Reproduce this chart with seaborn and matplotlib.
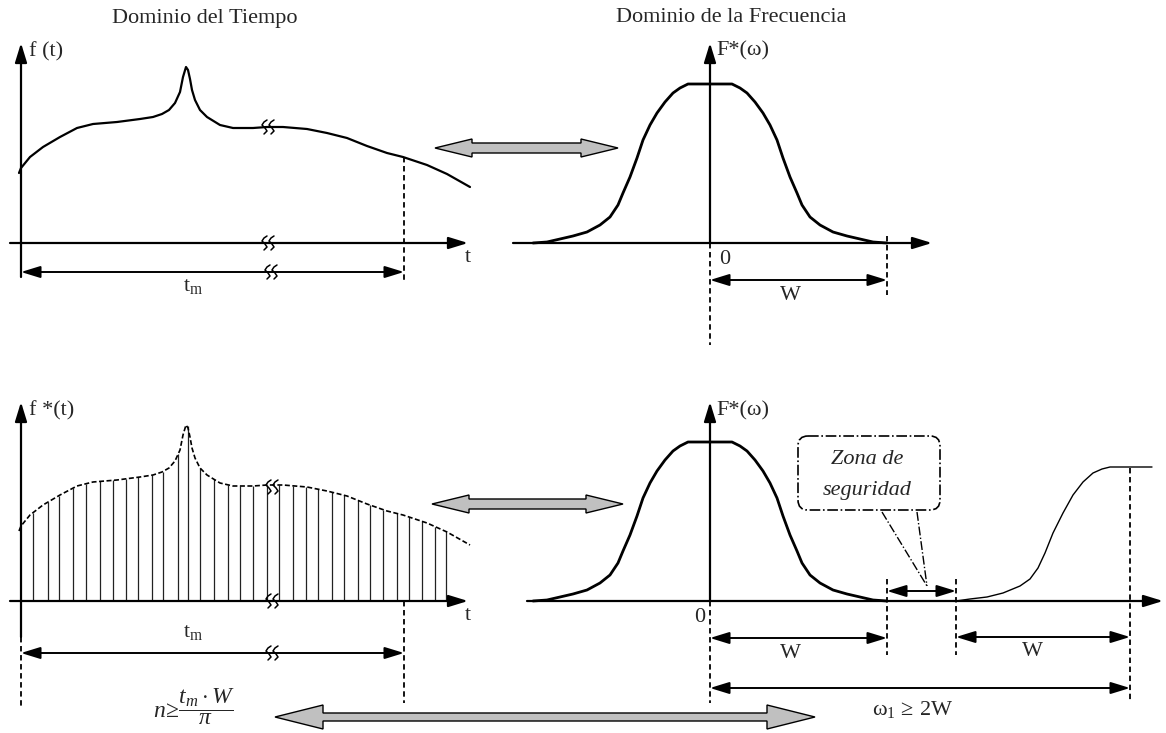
import matplotlib.pyplot as plt
import numpy as np
import pandas as pd
import seaborn as sns
from matplotlib.patches import Polygon, FancyBboxPatch

# f(t): posicion horizontal (px) y amplitud sobre el eje de tiempo
t_pos = [19, 21, 30, 43, 60, 77, 93, 117, 140, 153, 162, 169, 175, 180, 183, 186, 188, 190, 192,
         195, 200, 207, 220, 233, 253, 267, 283, 307, 327, 347, 367, 387, 403, 427, 447, 470]
f_amp = [70, 75, 86, 96, 106, 115, 119, 121, 124, 126, 129, 133, 140, 151, 166, 176, 173, 164, 153,
         143, 133, 126, 118, 115, 115, 116, 116, 114, 110, 105, 97, 90, 86, 78, 69, 56]

# f*(t): muestras
muestras_t = [33, 48, 59, 73, 86, 100, 113, 126, 138, 152, 163, 178, 188, 200, 214, 228, 240,
              253, 267, 279, 293, 306, 318, 332, 344, 358, 370, 383, 397, 409, 422, 435, 446]
muestras_amp = [88, 99, 105, 113, 117, 120, 121, 122, 124, 126, 129, 147, 175, 133, 122, 116, 115,
                115, 116, 116, 115, 114, 112, 109, 106, 101, 96, 91, 88, 84, 80, 74, 70]

# F*(w): desplazamiento desde el origen y amplitud
w_off = [-177, -163, -150, -137, -123, -110, -100, -92, -87, -80, -73, -67, -60, -53, -45, -37, -30, -22,
         22, 30, 37, 45, 53, 60, 67, 73, 80, 87, 92, 100, 110, 123, 137, 150, 163, 177]
F_amp = [0, 1, 4, 7, 11, 18, 26, 38, 50, 66, 85, 103, 118, 130, 141, 150, 155, 159,
         159, 155, 150, 141, 130, 118, 103, 85, 66, 50, 38, 26, 18, 11, 7, 4, 1, 0]

# replica desplazada del espectro
rep_w = [956, 970, 987, 1003, 1020, 1030, 1038, 1045, 1053, 1063, 1073, 1083, 1093, 1102, 1110, 1152]
rep_amp = [0, 2, 4, 8, 15, 22, 33, 48, 68, 88, 106, 119, 128, 132, 134, 134]

# posiciones del esquema (px)
EJE_T = 21
BASE_SUP = 243
BASE_INF = 601
W0 = 710
W_FIN = 887
W_GAP = 956
W1 = 1130
TM = 404

sns.set_theme(style="white")
plt.rcParams['font.family'] = ['Liberation Serif', 'DejaVu Serif']
plt.rcParams['mathtext.fontset'] = 'custom'
plt.rcParams['mathtext.rm'] = 'Liberation Serif'
plt.rcParams['mathtext.it'] = 'Liberation Serif:italic'
plt.rcParams['mathtext.bf'] = 'Liberation Serif:bold'

fig = plt.figure(figsize=(11.66, 7.33), dpi=100)
ax = fig.add_axes([0, 0, 1, 1])
ax.set_xlim(0, 1166)
ax.set_ylim(733, 0)
ax.axis('off')

FS = 16


def flecha(x0, y0, x1, y1, doble=False, lw=1.6):
    estilo = '<|-|>' if doble else '-|>'
    ax.annotate('', xy=(x1, y1), xytext=(x0, y0),
                arrowprops=dict(arrowstyle=estilo + ',head_length=0.65,head_width=0.2',
                                lw=lw, color='black', shrinkA=0, shrinkB=0,
                                mutation_scale=18))


def discontinua(x, y0, y1):
    ax.plot([x, x], [y0, y1], color='black', lw=1.3, linestyle=(0, (3, 2)))


def corte(x, y):
    # marca de eje interrumpido: dos trazos en forma de S
    dx = np.array([3, 0, -2, 1, 3, 0])
    dy = np.array([-7, -5, -2, 1, 4, 7])
    for k in (0, 7):
        ax.plot(x + k + dx, y + dy, color='black', lw=1.1, solid_joinstyle='round')


def flecha_gruesa(x0, x1, y, grosor, ancho, largo):
    pts = [(x0, y), (x0 + largo, y - ancho / 2), (x0 + largo, y - grosor / 2),
           (x1 - largo, y - grosor / 2), (x1 - largo, y - ancho / 2), (x1, y),
           (x1 - largo, y + ancho / 2), (x1 - largo, y + grosor / 2),
           (x0 + largo, y + grosor / 2), (x0 + largo, y + ancho / 2)]
    ax.add_patch(Polygon(pts, closed=True, facecolor='#c0c0c0', edgecolor='black', lw=1))


# ---------------- Dominio del tiempo (arriba) ----------------
df_f = pd.DataFrame({'t': t_pos, 'y': [BASE_SUP - a for a in f_amp]})
sns.lineplot(data=df_f, x='t', y='y', ax=ax, color='black', lw=1.6, sort=False, estimator=None)
flecha(EJE_T, 277, EJE_T, 43)
flecha(10, BASE_SUP, 468, BASE_SUP)
flecha(EJE_T, 272, TM, 272, doble=True, lw=1.4)
discontinua(TM, BASE_SUP - 86, 282)
corte(264, 127)
corte(264, BASE_SUP)
corte(267, 272)
ax.text(205, 18, 'Dominio del Tiempo', ha='center', va='center', fontsize=FS)
ax.text(29, 52, 'f (t)', ha='left', va='center', fontsize=FS)
ax.text(468, 257, 't', ha='center', va='center', fontsize=FS)
ax.text(193, 287, r'$\mathrm{t_m}$', ha='center', va='center', fontsize=FS)

# ---------------- Dominio de la frecuencia (arriba) ----------------
df_F = pd.DataFrame({'w': [W0 + o for o in w_off], 'y': [BASE_SUP - a for a in F_amp]})
sns.lineplot(data=df_F, x='w', y='y', ax=ax, color='black', lw=2, sort=False, estimator=None)
flecha(W0, BASE_SUP, W0, 43)
flecha(513, BASE_SUP, 932, BASE_SUP)
discontinua(W0, BASE_SUP, 345)
discontinua(W_FIN, 236, 295)
flecha(W0, 280, W_FIN, 280, doble=True, lw=1.4)
ax.text(731, 18, 'Dominio de la Frecuencia', ha='center', va='center', fontsize=FS)
ax.text(716, 51, 'F*(ω)', ha='left', va='center', fontsize=FS)
ax.text(725, 259, '0', ha='center', va='center', fontsize=FS)
ax.text(790, 296, 'W', ha='center', va='center', fontsize=FS)

flecha_gruesa(435, 618, 148, 10, 18, 37)

# ---------------- Señal muestreada (abajo) ----------------
ax.vlines(muestras_t, BASE_INF, [BASE_INF - a for a in muestras_amp], color='#222222', lw=0.9)
df_fs = pd.DataFrame({'t': t_pos, 'y': [BASE_INF - a for a in f_amp]})
sns.lineplot(data=df_fs, x='t', y='y', ax=ax, color='black', lw=1.2, sort=False,
             estimator=None, linestyle=(0, (3, 1.5)))
flecha(EJE_T, 637, EJE_T, 402)
discontinua(EJE_T, 637, 707)
flecha(10, BASE_INF, 468, BASE_INF)
flecha(EJE_T, 653, TM, 653, doble=True, lw=1.4)
discontinua(TM, BASE_INF, 703)
corte(268, 487)
corte(268, BASE_INF)
corte(268, 653)
ax.text(29, 411, 'f *(t)', ha='left', va='center', fontsize=FS)
ax.text(468, 615, 't', ha='center', va='center', fontsize=FS)
ax.text(193, 633, r'$\mathrm{t_m}$', ha='center', va='center', fontsize=FS)
ax.text(194, 707, r'$n\!\geq\!\dfrac{t_m\cdot W}{\pi}$', ha='center', va='center', fontsize=17)

# ---------------- Espectro muestreado (abajo) ----------------
df_Fs = pd.DataFrame({'w': [W0 + o for o in w_off], 'y': [BASE_INF - a for a in F_amp]})
sns.lineplot(data=df_Fs, x='w', y='y', ax=ax, color='black', lw=2, sort=False, estimator=None)
df_rep = pd.DataFrame({'w': rep_w, 'y': [BASE_INF - a for a in rep_amp]})
sns.lineplot(data=df_rep, x='w', y='y', ax=ax, color='black', lw=1, sort=False, estimator=None)
flecha(W0, BASE_INF, W0, 402)
flecha(527, BASE_INF, 1163, BASE_INF)
discontinua(W0, BASE_INF, 703)
discontinua(W_FIN, 579, 655)
discontinua(W_GAP, 579, 655)
discontinua(W1, 468, 702)
flecha(W_FIN, 591, W_GAP, 591, doble=True, lw=1.4)
flecha(W0, 638, W_FIN, 638, doble=True, lw=1.4)
flecha(W_GAP, 637, W1, 637, doble=True, lw=1.4)
flecha(W0, 688, W1, 688, doble=True, lw=1.4)
ax.text(716, 411, 'F*(ω)', ha='left', va='center', fontsize=FS)
ax.text(700, 617, '0', ha='center', va='center', fontsize=FS)
ax.text(790, 654, 'W', ha='center', va='center', fontsize=FS)
ax.text(1032, 652, 'W', ha='center', va='center', fontsize=FS)
ax.text(913, 710, r'$\mathrm{\omega}_1\,\geq\,\mathrm{2W}$', ha='center', va='center', fontsize=FS)

# zona de seguridad
ax.add_patch(FancyBboxPatch((798, 436), 142, 74, boxstyle='round,pad=0,rounding_size=10',
                            facecolor='none', edgecolor='black', lw=1.2, linestyle='-.'))
ax.plot([882, 927], [512, 586], color='black', lw=1, linestyle='-.')
ax.plot([917, 927], [512, 586], color='black', lw=1, linestyle='-.')
ax.text(867, 460, 'Zona de', ha='center', va='center', fontsize=FS, style='italic')
ax.text(867, 490, 'seguridad', ha='center', va='center', fontsize=FS, style='italic')

flecha_gruesa(432, 623, 504, 10, 18, 37)
flecha_gruesa(275, 815, 717, 8, 24, 48)

fig.savefig('out.png', dpi=100)
